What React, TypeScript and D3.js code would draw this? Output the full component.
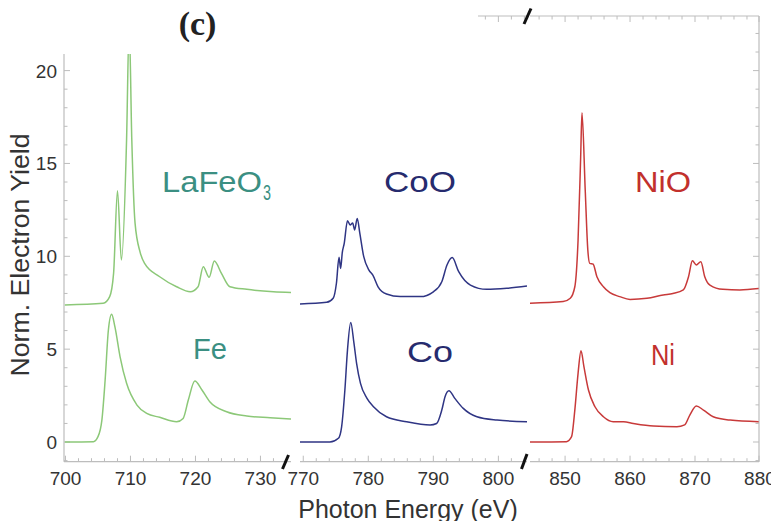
import React from "react";
import * as d3 from "d3";

// ---------- data ----------
const feLaFeO3E = [699.9, 705.8, 706.8, 707.4, 708.0, 708.6, 709.4, 709.8, 710.2, 710.7, 711.5, 712.2, 714.5, 717.1, 719.2, 720.4, 721.2, 722.1, 722.9, 724.0, 725.3, 727.9, 732.0, 734.7];
const feLaFeO3V = [7.38, 7.47, 7.83, 9.08, 13.53, 9.8, 16.3, 22.5, 16.3, 11.8, 10.2, 9.6, 8.9, 8.36, 8.09, 8.36, 9.44, 8.87, 9.75, 9.08, 8.36, 8.22, 8.09, 8.05];

const feMetalE = [699.9, 704.3, 705.0, 705.6, 706.1, 706.6, 707.1, 707.6, 708.4, 709.4, 711.0, 712.5, 714.5, 717.1, 718.1, 718.9, 719.9, 721.0, 722.2, 724.8, 727.9, 731.5, 734.7];
const feMetalV = [0.0, 0.02, 0.29, 1.18, 3.34, 6.03, 6.88, 6.21, 4.59, 3.16, 1.99, 1.54, 1.33, 1.09, 1.27, 2.26, 3.28, 2.8, 2.17, 1.63, 1.4, 1.31, 1.24];

const coOxideE = [769.5, 773.6, 774.6, 775.1, 775.5, 775.75, 776.0, 776.3, 776.8, 777.2, 777.6, 777.9, 778.3, 778.7, 779.3, 780.1, 780.7, 781.5, 782.8, 784.9, 788.0, 790.0, 791.3, 792.1, 792.9, 793.9, 795.7, 798.2, 801.3, 804.4];
const coOxideV = [7.43, 7.52, 7.74, 8.55, 9.95, 9.35, 10.2, 10.7, 11.92, 11.69, 11.8, 11.42, 12.04, 11.24, 9.98, 9.26, 8.99, 8.36, 7.97, 7.83, 7.83, 8.09, 8.63, 9.53, 9.93, 9.17, 8.45, 8.22, 8.28, 8.4];

const coMetalE = [769.5, 774.1, 775.4, 775.9, 776.4, 776.8, 777.3, 777.8, 778.2, 778.8, 779.8, 780.8, 782.8, 785.9, 789.5, 790.5, 791.3, 791.8, 792.4, 793.3, 794.6, 796.7, 799.8, 804.4];
const coMetalV = [0.0, 0.0, 0.2, 0.82, 2.8, 4.95, 6.43, 5.31, 4.24, 3.16, 2.35, 1.9, 1.36, 1.09, 0.92, 1.0, 1.72, 2.44, 2.76, 2.35, 1.81, 1.36, 1.18, 1.09];

const niOxideE = [844.6, 849.7, 850.8, 851.5, 852.0, 852.4, 852.6, 853.1, 853.5, 853.8, 854.3, 854.9, 855.9, 856.9, 858.4, 860.0, 862.6, 865.1, 866.6, 868.2, 869.0, 869.6, 870.2, 870.9, 871.5, 872.3, 874.3, 876.9, 879.8];
const niOxideV = [7.47, 7.56, 7.74, 8.36, 10.88, 15.36, 17.73, 13.57, 10.34, 9.62, 9.59, 8.9, 8.36, 8.04, 7.83, 7.68, 7.74, 7.92, 8.0, 8.19, 8.9, 9.76, 9.53, 9.71, 8.9, 8.45, 8.22, 8.19, 8.26];

const niMetalE = [844.6, 850.2, 851.0, 851.5, 852.0, 852.45, 852.9, 853.6, 854.6, 855.9, 857.4, 859.0, 860.5, 863.6, 867.2, 868.4, 869.2, 870.2, 871.3, 872.8, 875.4, 879.8];
const niMetalV = [0.0, 0.02, 0.29, 1.72, 3.7, 4.92, 4.06, 2.8, 1.9, 1.36, 1.09, 1.09, 1.0, 0.86, 0.82, 0.92, 1.45, 1.94, 1.72, 1.36, 1.18, 1.09];

const segmentDomains: [number, number][] = [
  [699.77, 734.7],
  [769.5, 804.4],
  [844.6, 879.85],
];
const yTickMajor = [0, 5, 10, 15, 20];

// ---------- layout ----------
const W = 771;
const H = 521;
const plotTop = 16;
const plotBottom = 461.7;
const plotLeft = 64;
const plotRight = 759;
const segRanges: [number, number][] = [
  [64, 291],
  [300, 527],
  [530, 759],
];

const green = "#8cc878";
const teal = "#3b8f82";
const navy = "#2f3584";
const navyText = "#262b6e";
const red = "#c83a3a";
const redText = "#c2302c";
const axisGray = "#bdbdbd";
const tickText = "#333333";

export default function App() {
  const y = d3.scaleLinear().domain([-1.06, 22.94]).range([plotBottom, plotTop]);
  const xs = segmentDomains.map((dom, i) => d3.scaleLinear().domain(dom).range(segRanges[i]));

  const mkLine = (sx: d3.ScaleLinear<number, number>) =>
    d3
      .line<[number, number]>()
      .x((d) => sx(d[0]))
      .y((d) => y(d[1]))
      .curve(d3.curveMonotoneX);

  const series = [
    { seg: 0, e: feLaFeO3E, v: feLaFeO3V, c: green },
    { seg: 0, e: feMetalE, v: feMetalV, c: green },
    { seg: 1, e: coOxideE, v: coOxideV, c: navy },
    { seg: 1, e: coMetalE, v: coMetalV, c: navy },
    { seg: 2, e: niOxideE, v: niOxideV, c: red },
    { seg: 2, e: niMetalE, v: niMetalV, c: red },
  ];

  const yMinor = d3.range(-1, 23, 1);
  const font = "'Liberation Sans', Arial, sans-serif";

  return (
    <svg
      width={W}
      height={H}
      viewBox={`0 0 ${W} ${H}`}
      style={{ position: "fixed", left: 0, top: 0, background: "#fff" }}
    >
      <rect x={0} y={0} width={W} height={H} fill="#fff" />
      <defs>
        <clipPath id="plotclip">
          <rect x={plotLeft} y={plotTop} width={plotRight - plotLeft} height={plotBottom - plotTop} />
        </clipPath>
      </defs>

      {/* x axes per segment */}
      {xs.map((sx, i) => {
        const [d0, d1] = sx.domain();
        const minor = d3.range(Math.ceil(d0 / 2) * 2, d1 + 0.3, 2);
        return (
          <g key={"xa" + i}>
            <line x1={segRanges[i][0]} x2={segRanges[i][1]} y1={plotBottom} y2={plotBottom} stroke={axisGray} strokeWidth={1.2} />
            <line x1={segRanges[i][0]} x2={segRanges[i][1]} y1={plotTop} y2={plotTop} stroke={axisGray} strokeWidth={1.2} />
            {minor.map((t) => {
              const major = Math.abs(t % 10) < 1e-6;
              const len = major ? 6 : 3.5;
              const px = Math.min(sx(t), plotRight);
              return (
                <g key={t}>
                  <line x1={px} x2={px} y1={plotBottom} y2={plotBottom - len} stroke={axisGray} strokeWidth={1} />
                  <line x1={px} x2={px} y1={plotTop} y2={plotTop + len} stroke={axisGray} strokeWidth={1} />
                  {major && (
                    <text x={sx(t)} y={485} textAnchor="middle" fontSize={19} fontFamily={font} fill={tickText}>
                      {t}
                    </text>
                  )}
                </g>
              );
            })}
          </g>
        );
      })}

      {/* y axes */}
      <line x1={plotLeft} x2={plotLeft} y1={plotTop} y2={plotBottom} stroke={axisGray} strokeWidth={1.2} />
      <line x1={plotRight} x2={plotRight} y1={plotTop} y2={plotBottom} stroke={axisGray} strokeWidth={1.2} />
      {yMinor.map((t) => {
        const major = yTickMajor.includes(t);
        const len = major ? 6 : 3.5;
        return (
          <g key={"yt" + t}>
            <line x1={plotLeft} x2={plotLeft + len} y1={y(t)} y2={y(t)} stroke={axisGray} strokeWidth={1} />
            <line x1={plotRight} x2={plotRight - len} y1={y(t)} y2={y(t)} stroke={axisGray} strokeWidth={1} />
          </g>
        );
      })}
      {yTickMajor.map((t) => (
        <text key={"yl" + t} x={57} y={y(t) + 7} textAnchor="end" fontSize={19} fontFamily={font} fill={tickText}>
          {t}
        </text>
      ))}

      {/* spectra */}
      <g clipPath="url(#plotclip)">
        {series.map((s, i) => (
          <path
            key={"s" + i}
            d={mkLine(xs[s.seg])(s.e.map((e, k) => [e, s.v[k]] as [number, number])) || ""}
            fill="none"
            stroke={s.c}
            strokeWidth={1.5}
            strokeLinejoin="round"
          />
        ))}
      </g>

      {/* white box covering top-left */}
      <rect x={0} y={0} width={478} height={54} fill="#fff" />

      {/* break marks */}
      <line x1={282.5} y1={469} x2={288.5} y2={455} stroke="#111" strokeWidth={3} />
      <line x1={521.5} y1={469} x2={527} y2={454} stroke="#111" strokeWidth={3} />
      <line x1={524} y1={24} x2={531} y2={8.5} stroke="#111" strokeWidth={3} />

      {/* panel label */}
      <text x={197.5} y={35} textAnchor="middle" fontSize={34} fontWeight="bold" fontFamily="'Liberation Serif', 'Times New Roman', serif" fill="#222">
        (c)
      </text>

      {/* compound labels */}
      <text x={162} y={192} fontSize={29} fontFamily={font} fill={teal} textLength={100} lengthAdjust="spacingAndGlyphs">
        LaFeO
      </text>
      <text x={263} y={200} fontSize={22} fontFamily={font} fill={teal} textLength={8} lengthAdjust="spacingAndGlyphs">
        3
      </text>
      <text x={193} y={359} fontSize={30} fontFamily={font} fill={teal} textLength={34} lengthAdjust="spacingAndGlyphs">
        Fe
      </text>
      <text x={384} y={192} fontSize={29} fontFamily={font} fill={navyText} textLength={72} lengthAdjust="spacingAndGlyphs">
        CoO
      </text>
      <text x={407} y={362} fontSize={30} fontFamily={font} fill={navyText} textLength={46} lengthAdjust="spacingAndGlyphs">
        Co
      </text>
      <text x={635} y={192} fontSize={29} fontFamily={font} fill={redText} textLength={56} lengthAdjust="spacingAndGlyphs">
        NiO
      </text>
      <text x={651} y={365} fontSize={30} fontFamily={font} fill={redText} textLength={24} lengthAdjust="spacingAndGlyphs">
        Ni
      </text>

      {/* axis titles */}
      <text x={408} y={518} textAnchor="middle" fontSize={25} fontFamily={font} fill={tickText}>
        Photon Energy (eV)
      </text>
      <text
        transform="translate(29,255) rotate(-90)"
        textAnchor="middle"
        fontSize={25}
        fontFamily={font}
        fill={tickText}
        textLength={243}
        lengthAdjust="spacingAndGlyphs"
      >
        Norm. Electron Yield
      </text>
    </svg>
  );
}
